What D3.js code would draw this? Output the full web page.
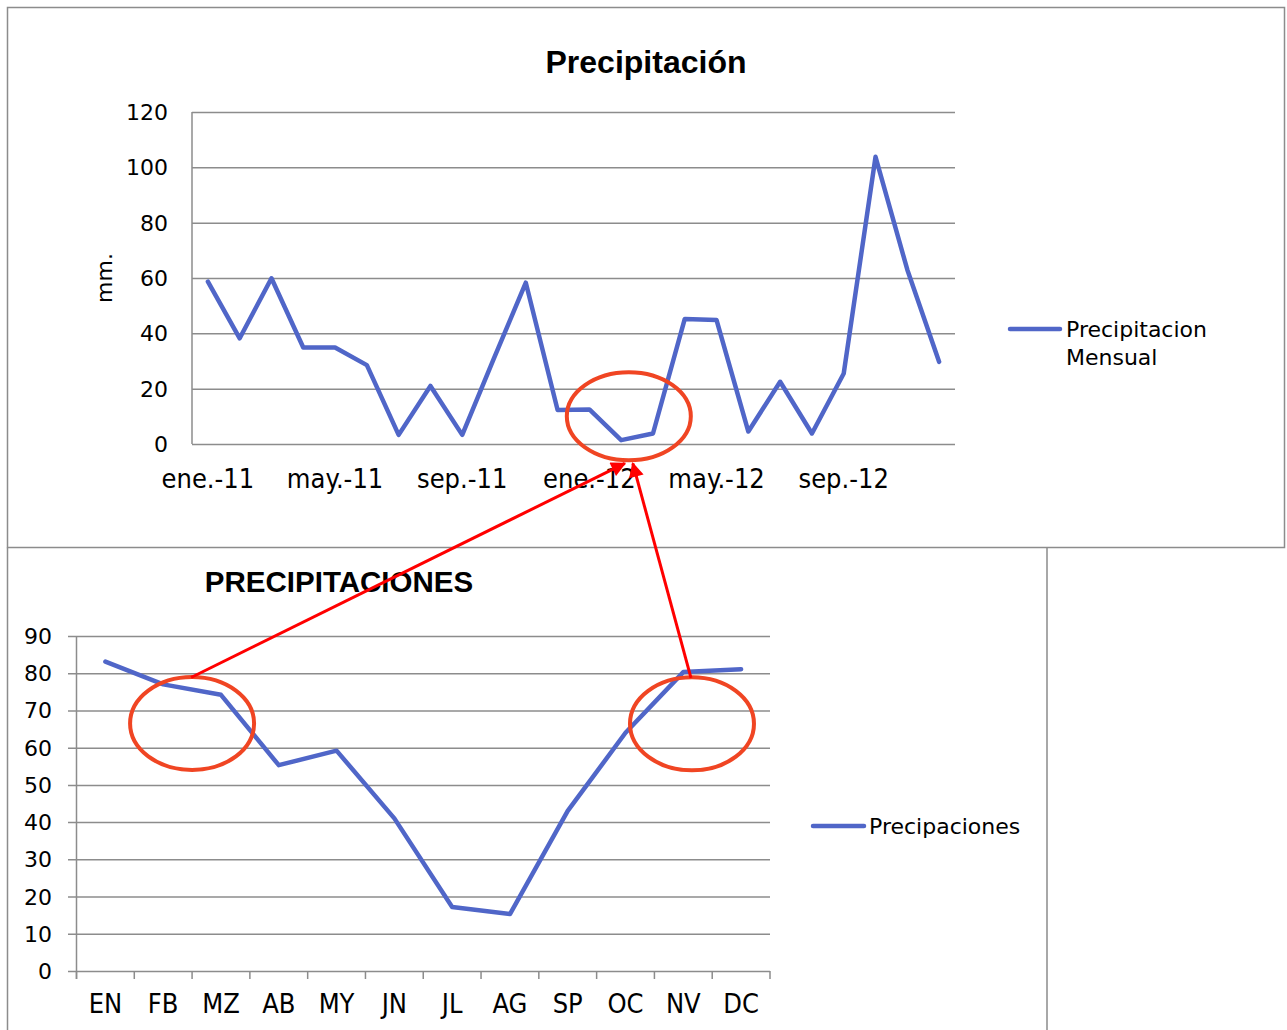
<!DOCTYPE html>
<html lang="es">
  <head>
    <meta charset="UTF-8" />
    <title>Precipitación</title>
    <script src="https://d3js.org/d3.v7.min.js"></script>
    <style>
      body { margin: 0; background: #fff; }
      svg { display: block; }
      .frame { fill: none; stroke: #8c8c8c; stroke-width: 1.5; }
      .grid line { stroke: #8c8c8c; stroke-width: 1.5; }
      .ylab { font-family: "DejaVu Sans", sans-serif; font-size: 22px; fill: #000; }
      .xlab { font-family: "Liberation Sans Narrow", "DejaVu Sans Condensed", sans-serif; font-size: 27px; fill: #000; }
      .title { font-family: "Liberation Sans", Arial, sans-serif; font-weight: bold; fill: #000; }
      .legend { font-family: "DejaVu Sans", sans-serif; font-size: 22px; fill: #000; }
      .serie { fill: none; stroke: #5066c8; stroke-width: 4.5; stroke-linejoin: round; stroke-linecap: round; }
      .circ { fill: none; stroke: #f04523; stroke-width: 4; }
      .arrow { stroke: #ff0000; stroke-width: 3; }
    </style>
  </head>
  <body>
    <svg id="chart" width="1287" height="1030"></svg>

    <script>
      // datos grafico superior (mm. mensuales 2011-2012)
      const meses = ["ene.-11", "feb.-11", "mar.-11", "abr.-11", "may.-11", "jun.-11",
        "jul.-11", "ago.-11", "sep.-11", "oct.-11", "nov.-11", "dic.-11",
        "ene.-12", "feb.-12", "mar.-12", "abr.-12", "may.-12", "jun.-12",
        "jul.-12", "ago.-12", "sep.-12", "oct.-12", "nov.-12", "dic.-12"];
      const precMensual = [58.7, 38.2, 59.9, 34.9, 34.9, 28.5, 3.3, 21, 3.3, 31, 58.3, 12.3,
        12.5, 1.4, 3.8, 45.2, 44.8, 4.5, 22.5, 3.8, 25.5, 103.8, 63, 29.7];
      const mesesVisibles = ["ene.-11", "may.-11", "sep.-11", "ene.-12", "may.-12", "sep.-12"];
      const ticksSup = [0, 20, 40, 60, 80, 100, 120];

      // datos grafico inferior (promedio mensual)
      const abrev = ["EN", "FB", "MZ", "AB", "MY", "JN", "JL", "AG", "SP", "OC", "NV", "DC"];
      const precipaciones = [83.1, 77, 74.2, 55.3, 59.2, 41, 17.2, 15.3, 43, 64, 80.3, 81.1];
      const ticksInf = [0, 10, 20, 30, 40, 50, 60, 70, 80, 90];

      // anotaciones: categoria, desplazamiento en bandas, valor
      const marcaSup = { cat: "feb.-12", dx: 0.24, v: 10 };
      const marcasInf = [
        { cat: "MZ", dx: -0.5, v: 66.5 },
        { cat: "NV", dx: 0.15, v: 66.4 }
      ];

      const svg = d3.select("#chart");

      // marcos
      svg.append("rect").attr("class", "frame")
        .attr("x", 7.5).attr("y", 7.5).attr("width", 1277).attr("height", 540);
      svg.append("path").attr("class", "frame")
        .attr("d", "M7.5,547.5V1040M1047,547.5V1040");

      // ---------- grafico superior ----------
      const x1 = d3.scaleBand().domain(meses).range([192, 955]);
      const y1 = d3.scaleLinear().domain([0, 120]).range([444, 112]);

      svg.append("g").attr("class", "grid")
        .attr("transform", "translate(192,0)")
        .call(d3.axisLeft(y1).tickValues(ticksSup).tickSize(-(955 - 192)).tickFormat(""))
        .call(g => g.select(".domain").remove());
      svg.append("line").attr("x1", 192).attr("x2", 192).attr("y1", 112).attr("y2", 444)
        .attr("stroke", "#8c8c8c").attr("stroke-width", 1.5);

      svg.append("g").selectAll("text").data(ticksSup).join("text")
        .attr("class", "ylab")
        .attr("x", 168).attr("y", d => y1(d) + 8)
        .attr("text-anchor", "end")
        .text(d => d);

      svg.append("g").selectAll("text").data(mesesVisibles).join("text")
        .attr("class", "xlab")
        .attr("x", d => x1(d) + x1.bandwidth() / 2).attr("y", 488)
        .attr("text-anchor", "middle")
        .text(d => d);

      svg.append("text").attr("class", "ylab")
        .attr("transform", "translate(112,278) rotate(-90)")
        .attr("font-size", 25)
        .attr("text-anchor", "middle")
        .text("mm.");

      svg.append("text").attr("class", "title")
        .attr("x", 646).attr("y", 73).attr("font-size", 32)
        .attr("text-anchor", "middle").text("Precipitación");

      const linea1 = d3.line()
        .x((d, i) => x1(meses[i]) + x1.bandwidth() / 2)
        .y(d => y1(d));
      svg.append("path").datum(precMensual).attr("class", "serie").attr("d", linea1);

      svg.append("line").attr("class", "serie")
        .attr("x1", 1010).attr("x2", 1060).attr("y1", 329).attr("y2", 329);
      svg.append("text").attr("class", "legend").attr("x", 1066).attr("y", 337).text("Precipitacion");
      svg.append("text").attr("class", "legend").attr("x", 1066).attr("y", 365).text("Mensual");

      // ---------- grafico inferior ----------
      const x2 = d3.scaleBand().domain(abrev).range([76.5, 770]);
      const y2 = d3.scaleLinear().domain([0, 90]).range([971, 636]);

      svg.append("g").attr("class", "grid")
        .attr("transform", "translate(770,0)")
        .call(d3.axisLeft(y2).tickValues(ticksInf).tickSize(770 - 68).tickFormat(""))
        .call(g => g.select(".domain").remove());

      // eje x con marcas entre categorias
      const limites = abrev.map(d => x2(d)).concat([770]);
      svg.append("g").attr("class", "grid").selectAll("line").data(limites).join("line")
        .attr("x1", d => d).attr("x2", d => d).attr("y1", 971).attr("y2", 979);
      svg.append("line").attr("x1", 76.5).attr("x2", 76.5).attr("y1", 636).attr("y2", 979)
        .attr("stroke", "#8c8c8c").attr("stroke-width", 1.5);

      svg.append("g").selectAll("text").data(ticksInf).join("text")
        .attr("class", "ylab")
        .attr("x", 52).attr("y", d => y2(d) + 8)
        .attr("text-anchor", "end")
        .text(d => d);

      svg.append("g").selectAll("text").data(abrev).join("text")
        .attr("class", "xlab")
        .attr("x", d => x2(d) + x2.bandwidth() / 2).attr("y", 1013)
        .attr("text-anchor", "middle")
        .text(d => d);

      svg.append("text").attr("class", "title")
        .attr("x", 339).attr("y", 592).attr("font-size", 29.5)
        .attr("text-anchor", "middle").text("PRECIPITACIONES");

      const linea2 = d3.line()
        .x((d, i) => x2(abrev[i]) + x2.bandwidth() / 2)
        .y(d => y2(d));
      svg.append("path").datum(precipaciones).attr("class", "serie").attr("d", linea2);

      svg.append("line").attr("class", "serie")
        .attr("x1", 813).attr("x2", 864).attr("y1", 826).attr("y2", 826);
      svg.append("text").attr("class", "legend").attr("x", 869).attr("y", 834).text("Precipaciones");

      // ---------- anotaciones ----------
      svg.append("defs").append("marker")
        .attr("id", "punta").attr("viewBox", "0 0 10 10")
        .attr("refX", 9).attr("refY", 5)
        .attr("markerWidth", 6).attr("markerHeight", 5)
        .attr("orient", "auto")
        .append("path").attr("d", "M0,0L10,5L0,10Z").attr("fill", "#ff0000");

      const rx = 62, ry = 45;
      const cSup = {
        x: x1(marcaSup.cat) + x1.bandwidth() * (0.5 + marcaSup.dx),
        y: y1(marcaSup.v)
      };
      const cInf = marcasInf.map(m => ({
        x: x2(m.cat) + x2.bandwidth() * (0.5 + m.dx),
        y: y2(m.v)
      }));

      svg.append("ellipse").attr("class", "circ")
        .attr("cx", cSup.x).attr("cy", cSup.y).attr("rx", rx).attr("ry", ry - 1);
      svg.selectAll(".circInf").data(cInf).join("ellipse")
        .attr("class", "circ circInf")
        .attr("cx", d => d.x).attr("cy", d => d.y).attr("rx", rx).attr("ry", ry + 1.5);

      svg.selectAll(".arrow").data(cInf).join("line")
        .attr("class", "arrow")
        .attr("x1", d => d.x - 1).attr("y1", d => d.y - ry - 1)
        .attr("x2", (d, i) => cSup.x + (i === 0 ? -4 : 4)).attr("y2", cSup.y + ry + 2)
        .attr("marker-end", "url(#punta)");
    </script>
  </body>
</html>
